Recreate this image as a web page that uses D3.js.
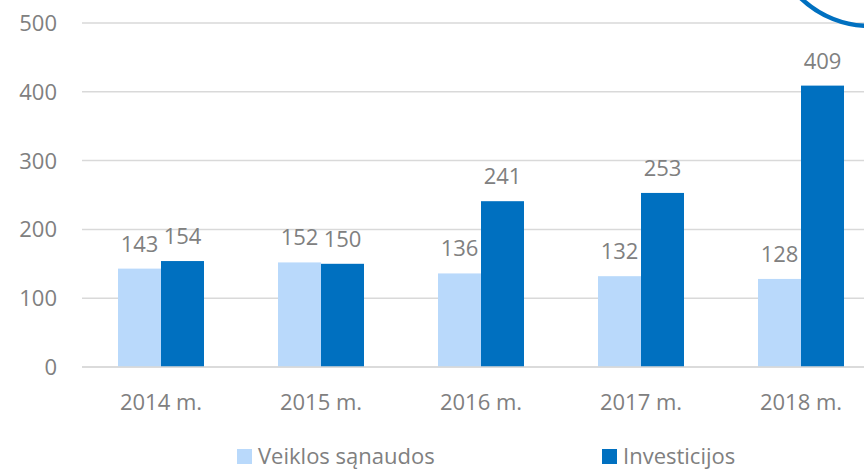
<!DOCTYPE html>
<html><head><meta charset="utf-8">
<script src="https://cdn.jsdelivr.net/npm/d3@7"></script>
<style>
html,body{margin:0;padding:0;background:#fff;overflow:hidden}
text{font-family:"Open Sans","Segoe UI",sans-serif}
</style></head>
<body><svg id="c" width="864" height="470"></svg>
<script>
const categories = ["2014 m.","2015 m.","2016 m.","2017 m.","2018 m."];
const seriesNames = ["Veiklos sąnaudos","Investicijos"];
const veiklos = [143,152,136,132,128];
const investicijos = [154,150,241,253,409];
const yTicks = [0,100,200,300,400,500];
const colors = ["#b9d9fb","#0070c0"];

const svg = d3.select("#c");
const W = 864;
const x0 = d3.scaleBand().domain(categories).range([81,881]).paddingInner(0.4625).paddingOuter(0.23125);
const x1 = d3.scaleBand().domain(seriesNames).range([0,x0.bandwidth()]);
const y = d3.scaleLinear().domain([0,500]).range([367,23]);
const textColor = "#808080";
const fs = 22;

// grid
svg.append("g").selectAll("line").data(yTicks).join("line")
  .attr("x1",82).attr("x2",W).attr("y1",d=>y(d)).attr("y2",d=>y(d))
  .attr("stroke","#d9d9d9").attr("stroke-width",1.5);

// y labels
svg.append("g").selectAll("text").data(yTicks).join("text")
  .attr("x",57).attr("y",d=>y(d)).attr("dy","0.36em").attr("text-anchor","end")
  .attr("font-size",fs).attr("fill",textColor).text(d=>d);

const data = categories.map((c,i)=>({c, vals:[veiklos[i],investicijos[i]]}));
const g = svg.append("g").selectAll("g").data(data).join("g")
  .attr("transform",d=>`translate(${x0(d.c)},0)`);
g.selectAll("rect").data(d=>d.vals.map((v,j)=>({v,s:seriesNames[j],j}))).join("rect")
  .attr("x",d=>x1(d.s)).attr("width",x1.bandwidth())
  .attr("y",d=>y(d.v)).attr("height",d=>y(0)-y(d.v)).attr("fill",d=>colors[d.j]);
g.selectAll("text").data(d=>d.vals.map((v,j)=>({v,s:seriesNames[j],j}))).join("text")
  .attr("x",d=>x1(d.s)+x1.bandwidth()/2).attr("y",d=>y(d.v)-17)
  .attr("text-anchor","middle").attr("font-size",fs).attr("fill",textColor).text(d=>d.v);

// baseline
svg.append("line").attr("x1",82).attr("x2",W).attr("y1",y(0)).attr("y2",y(0))
  .attr("stroke","#d9d9d9").attr("stroke-width",1.5);

// x labels
svg.append("g").selectAll("text").data(categories).join("text")
  .attr("x",d=>x0(d)+x0.bandwidth()/2).attr("y",410).attr("text-anchor","middle")
  .attr("font-size",fs).attr("fill",textColor).text(d=>d);

// legend
const legX = [237,602];
const lg = svg.append("g").selectAll("g").data(seriesNames).join("g")
  .attr("transform",(d,i)=>`translate(${legX[i]},0)`);
lg.append("rect").attr("x",0).attr("y",449).attr("width",15).attr("height",15).attr("fill",(d,i)=>colors[i]);
lg.append("text").attr("x",21).attr("y",464).attr("font-size",fs).attr("fill",textColor).text(d=>d);

// decorative circle
svg.append("circle").attr("cx",870).attr("cy",-74).attr("r",100)
  .attr("fill","none").attr("stroke","#0070c0").attr("stroke-width",4.5);
</script></body></html>
